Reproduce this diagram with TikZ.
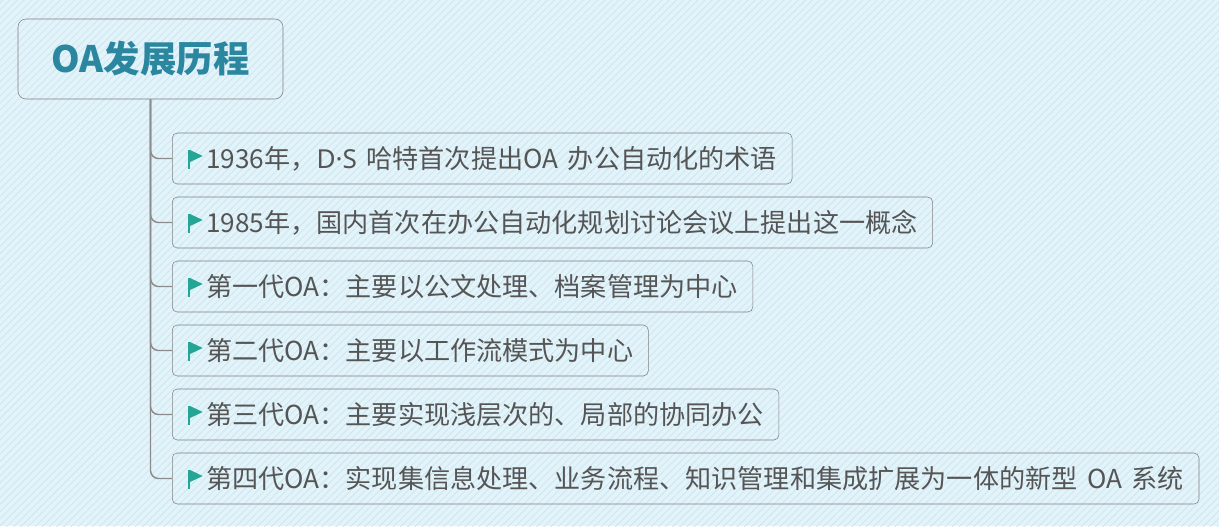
\documentclass[tikz,border=0pt]{standalone}
\usepackage{fontspec}
\setmainfont{Noto Sans CJK SC}
\newfontfamily\latinfont{Noto Sans}
\usetikzlibrary{patterns.meta}
\definecolor{bgblue}{RGB}{226,243,250}
\definecolor{stripe}{RGB}{206,230,240}
\definecolor{boxgray}{RGB}{128,128,128}
\definecolor{linegray}{RGB}{140,140,140}
\definecolor{textgray}{RGB}{85,85,85}
\definecolor{titleblue}{RGB}{43,135,160}
\definecolor{flagteal}{RGB}{36,166,150}
\newcommand\gap{\hspace{7.2pt}}
\begin{document}
\begin{tikzpicture}[x=0.75pt,y=-0.75pt,
 topic/.style={draw=boxgray,rounded corners=6pt,minimum width=198.75pt,minimum height=60pt,
   text=titleblue,font=\fontsize{27.3}{30}\bfseries\selectfont},
 item/.style={draw=boxgray,rounded corners=3.75pt,minimum height=38.25pt,inner xsep=11.25pt,
   anchor=west,text=textgray,font=\fontsize{19.6}{22}\selectfont,
   execute at begin node=\hspace*{14.25pt}},
 branch/.style={draw=linegray,line width=1.1pt,rounded corners=6pt}]
% background
\fill[bgblue] (0,0) rectangle (1219,526);
\fill[pattern={Lines[angle=45,distance=3.8pt,line width=0.6pt]},pattern color=stripe] (0,0) rectangle (1219,526);
\useasboundingbox (0,0) rectangle (1219,526);
% nodes
\node[topic] (t0) at (150.5,59) {OA发展历程};
\node[item] (t1) at (172,158.5) {1936年，{\latinfont D·S}\gap 哈特首次提出OA\gap 办公自动化的术语};
\node[item] (t2) at (172,222.5) {1985年，国内首次在办公自动化规划讨论会议上提出这一概念};
\node[item] (t3) at (172,286.5) {第一代OA：主要以公文处理、档案管理为中心};
\node[item] (t4) at (172,350.5) {第二代OA：主要以工作流模式为中心};
\node[item] (t5) at (172,414.5) {第三代OA：主要实现浅层次的、局部的协同办公};
\node[item] (t6) at (172,478.5) {第四代OA：实现集信息处理、业务流程、知识管理和集成扩展为一体的新型\gap OA\gap 系统};
% branches and flags
\foreach \i in {1,...,6} {
 \draw[branch] (t0.south) |- (t\i.west);
 \fill[flagteal,shift={(t\i.west)}] (15.7,-8.5) rectangle (18.3,10);
 \fill[flagteal,shift={(t\i.west)}] (18,-8.5) -- (30.7,-2.5) -- (18,3.5) -- cycle;
}
\end{tikzpicture}
\end{document}
